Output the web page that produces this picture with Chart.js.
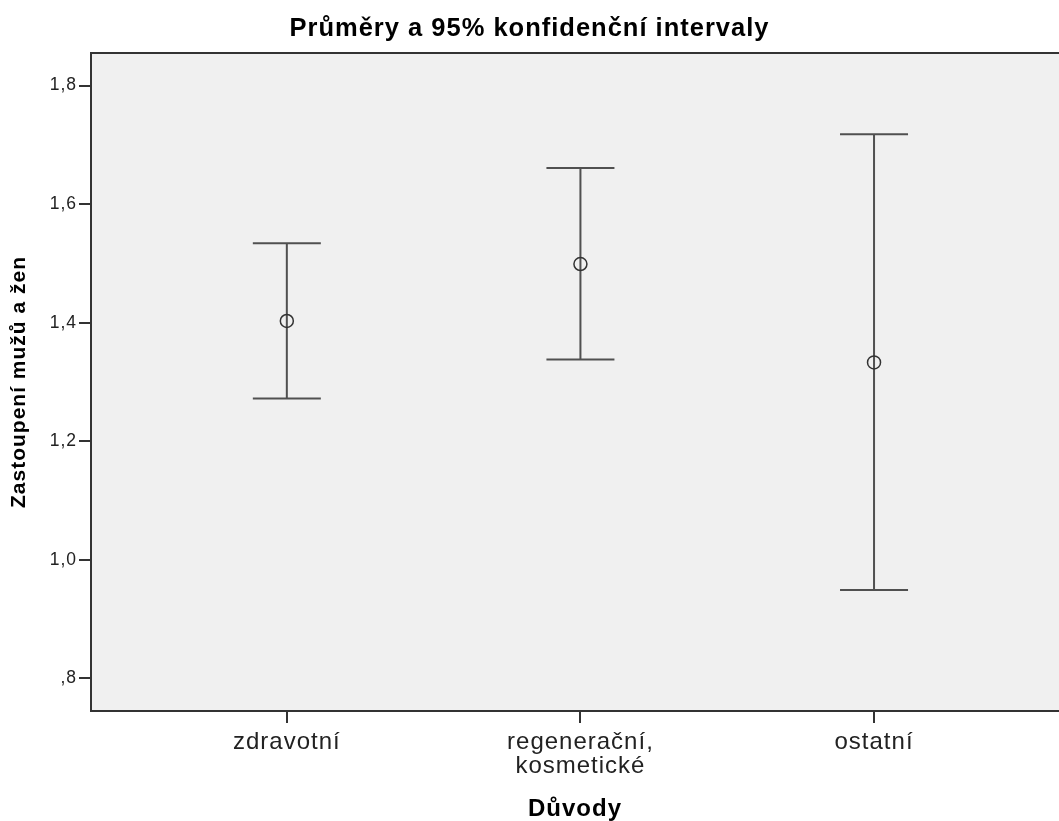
<!DOCTYPE html>
<html>
<head>
<meta charset="utf-8">
<script src="https://cdn.jsdelivr.net/npm/chart.js@4.4.1/dist/chart.umd.min.js"></script>
<style>
  html, body { margin: 0; padding: 0; background: #fff; overflow: hidden; }
  #wrap { width: 1059px; height: 821px; overflow: hidden; }
  canvas { display: block; }
</style>
</head>
<body>
<div id="wrap"><canvas id="c" width="1059" height="821"></canvas></div>
<script>
// Means and 95% confidence intervals per reason group
const categories = ['zdravotní', ['regenerační,', 'kosmetické'], 'ostatní'];
const xPositions = [1, 2, 3];
const means = [1.403, 1.499, 1.333];
const lowerCI = [1.272, 1.338, 0.949];
const upperCI = [1.534, 1.661, 1.718];
const yTicks = [0.8, 1.0, 1.2, 1.4, 1.6, 1.8];

const FONT = "'Liberation Sans', Arial, sans-serif";
const SPACING = '1px';

// Slightly tracked-out lettering for all chart text
const tracking = {
  id: 'tracking',
  beforeUpdate(chart) { chart.ctx.letterSpacing = SPACING; },
  beforeLayout(chart) { chart.ctx.letterSpacing = SPACING; },
  beforeDraw(chart) { chart.ctx.letterSpacing = SPACING; }
};

// Light grey plot background and dark frame around the plot area
const plotFrame = {
  id: 'plotFrame',
  beforeDraw(chart) {
    const { ctx, chartArea: a } = chart;
    ctx.save();
    ctx.fillStyle = '#f0f0f0';
    ctx.fillRect(a.left, a.top, a.right - a.left, a.bottom - a.top);
    ctx.restore();
  },
  afterDraw(chart) {
    const { ctx, chartArea: a } = chart;
    ctx.save();
    ctx.strokeStyle = '#333';
    ctx.lineWidth = 2;
    ctx.beginPath();
    ctx.moveTo(a.right, a.top);
    ctx.lineTo(a.left, a.top);
    ctx.lineTo(a.left, a.bottom);
    ctx.lineTo(a.right, a.bottom);
    ctx.stroke();
    ctx.restore();
  }
};

// Vertical whiskers with caps for each confidence interval
const errorBars = {
  id: 'errorBars',
  beforeDatasetsDraw(chart) {
    const { ctx, scales: { x, y } } = chart;
    const cap = 34;
    ctx.save();
    ctx.strokeStyle = '#505050';
    ctx.lineWidth = 2;
    xPositions.forEach((pos, i) => {
      const px = x.getPixelForValue(pos);
      const lo = y.getPixelForValue(lowerCI[i]);
      const hi = y.getPixelForValue(upperCI[i]);
      ctx.beginPath();
      ctx.moveTo(px, lo);
      ctx.lineTo(px, hi);
      ctx.moveTo(px - cap, hi);
      ctx.lineTo(px + cap, hi);
      ctx.moveTo(px - cap, lo);
      ctx.lineTo(px + cap, lo);
      ctx.stroke();
    });
    ctx.restore();
  }
};

const fmt = v => v.toFixed(1).replace('.', ',').replace(/^0/, '');

new Chart(document.getElementById('c'), {
  type: 'scatter',
  data: {
    datasets: [{
      label: 'Průměr',
      data: xPositions.map((x, i) => ({ x, y: means[i] })),
      pointRadius: 6.5,
      pointHoverRadius: 6.5,
      pointBorderWidth: 1.5,
      pointBorderColor: '#333',
      pointBackgroundColor: 'rgba(0,0,0,0)'
    }]
  },
  options: {
    responsive: false,
    animation: false,
    layout: { padding: 0, autoPadding: false },
    plugins: {
      legend: { display: false },
      tooltip: { enabled: false },
      title: {
        display: true,
        text: 'Průměry a 95% konfidenční intervaly',
        color: '#000',
        font: { family: FONT, size: 25.5, weight: 'bold', lineHeight: 1.2 },
        padding: { top: 14, bottom: 8.4 }
      }
    },
    scales: {
      x: {
        type: 'linear',
        min: 0.333,
        max: 3.63,
        afterBuildTicks: s => { s.ticks = xPositions.map(v => ({ value: v })); },
        afterFit: s => { s.height = 110; },
        border: { display: false },
        grid: { drawOnChartArea: false, drawTicks: true, tickLength: 12, color: '#333', lineWidth: 2 },
        ticks: {
          callback: (v, i) => categories[i],
          color: '#222',
          font: { family: FONT, size: 24, lineHeight: 0.97 },
          padding: 8,
          maxRotation: 0,
          autoSkip: false
        },
        title: {
          display: true,
          text: 'Důvody',
          color: '#000',
          font: { family: FONT, size: 24, weight: 'bold', lineHeight: 1.2 },
          padding: { top: 0, bottom: -3 }
        }
      },
      y: {
        type: 'linear',
        min: 0.745,
        max: 1.855,
        afterBuildTicks: s => { s.ticks = yTicks.map(v => ({ value: v })); },
        afterFit: s => { s.width = 91; },
        border: { display: false },
        grid: { drawOnChartArea: false, drawTicks: true, tickLength: 12, color: '#333', lineWidth: 2 },
        ticks: {
          callback: v => fmt(v),
          color: '#222',
          font: { family: FONT, size: 17.5 },
          padding: 2
        },
        title: {
          display: true,
          text: 'Zastoupení mužů a žen',
          color: '#000',
          font: { family: FONT, size: 21, weight: 'bold', lineHeight: 1.2 },
          padding: { top: 7, bottom: 0 }
        }
      }
    }
  },
  plugins: [tracking, plotFrame, errorBars]
});
</script>
</body>
</html>
